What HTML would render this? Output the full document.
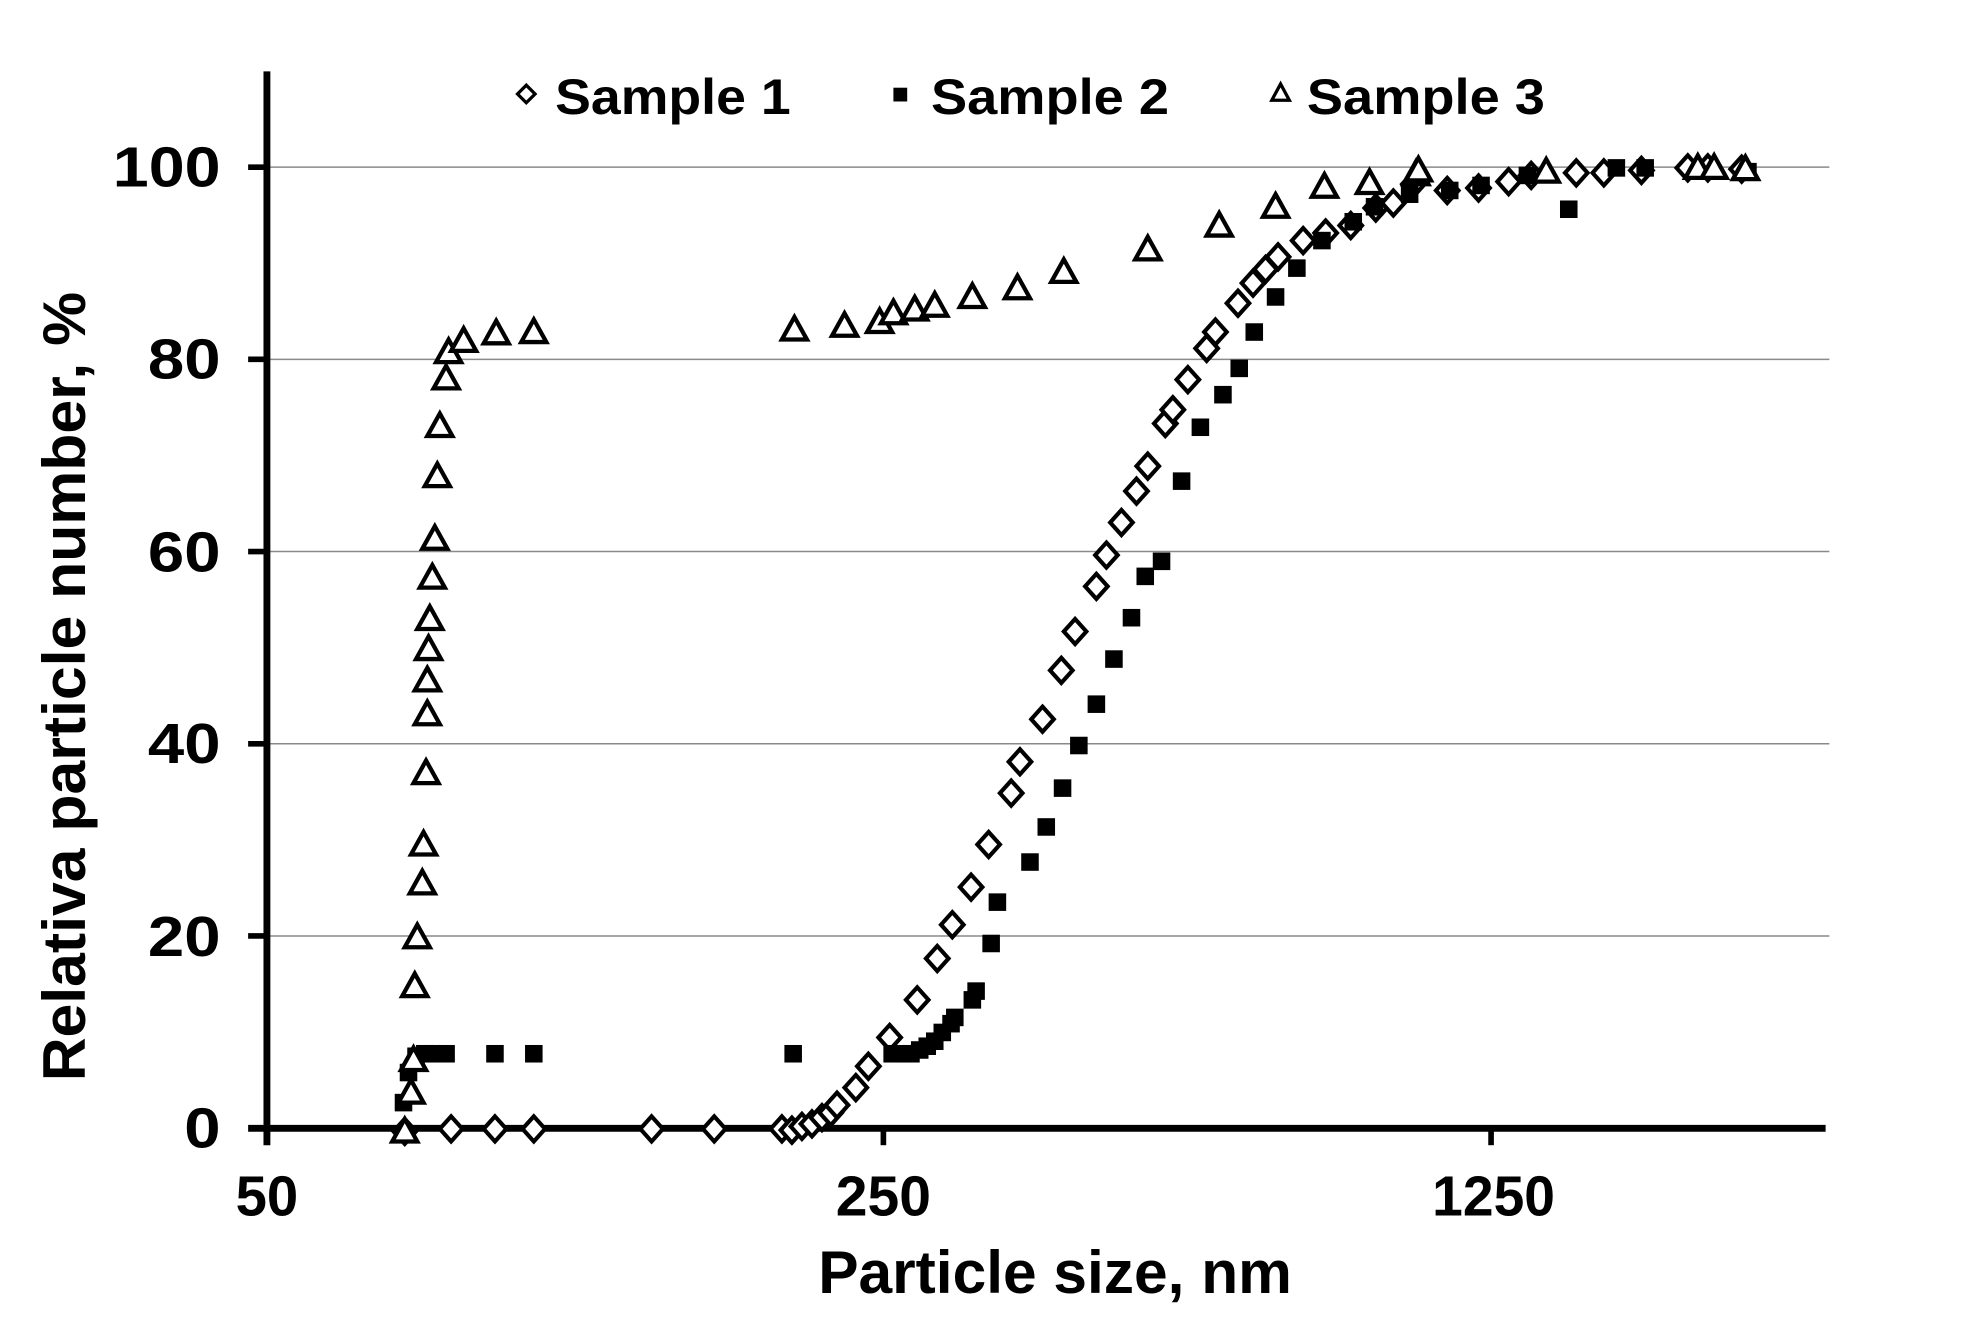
<!DOCTYPE html>
<html><head><meta charset="utf-8"><style>html,body{margin:0;padding:0;background:#fff}svg{display:block}</style></head>
<body>
<svg width="1968" height="1318" viewBox="0 0 1570.6 1051.9" xmlns="http://www.w3.org/2000/svg" font-family="Liberation Sans, Arial, sans-serif" font-weight="bold">
<defs>
<path id="d" d="M0,-10 L9,0 L0,10 L-9,0 Z" fill="#fff" stroke="#000" stroke-width="3.3"/>
<rect id="s" x="-7" y="-7" width="14" height="14" fill="#000"/>
<path id="t" d="M0,-10 L10,8 L-10,8 Z" fill="#fff" stroke="#000" stroke-width="3.4" stroke-linejoin="miter"/>
</defs>
<g stroke="#8a8a8a" stroke-width="1.2">
<line x1="213" y1="133.4" x2="1460" y2="133.4"/>
<line x1="213" y1="286.8" x2="1460" y2="286.8"/>
<line x1="213" y1="440.2" x2="1460" y2="440.2"/>
<line x1="213" y1="593.6" x2="1460" y2="593.6"/>
<line x1="213" y1="747" x2="1460" y2="747"/>
</g>
<g stroke="#000">
<line x1="213" y1="57" x2="213" y2="914" stroke-width="5.5"/>
<line x1="198" y1="900.5" x2="1457" y2="900.5" stroke-width="5.5"/>
<g stroke-width="4.5">
<line x1="198" y1="133.4" x2="213" y2="133.4"/>
<line x1="198" y1="286.8" x2="213" y2="286.8"/>
<line x1="198" y1="440.2" x2="213" y2="440.2"/>
<line x1="198" y1="593.6" x2="213" y2="593.6"/>
<line x1="198" y1="747" x2="213" y2="747"/>
<line x1="705" y1="900" x2="705" y2="914"/>
<line x1="1190" y1="900" x2="1190" y2="914"/>
</g>
</g>
<g font-size="45" text-anchor="end">
<text x="176" y="149" textLength="86" lengthAdjust="spacingAndGlyphs">100</text>
<text x="176" y="302" textLength="58" lengthAdjust="spacingAndGlyphs">80</text>
<text x="176" y="456" textLength="58" lengthAdjust="spacingAndGlyphs">60</text>
<text x="176" y="609" textLength="58" lengthAdjust="spacingAndGlyphs">40</text>
<text x="176" y="763" textLength="58" lengthAdjust="spacingAndGlyphs">20</text>
<text x="176" y="916" textLength="29" lengthAdjust="spacingAndGlyphs">0</text>
</g>
<g font-size="45" text-anchor="middle">
<text x="213" y="970" textLength="50" lengthAdjust="spacingAndGlyphs">50</text>
<text x="705" y="970" textLength="76" lengthAdjust="spacingAndGlyphs">250</text>
<text x="1192" y="970" textLength="98" lengthAdjust="spacingAndGlyphs">1250</text>
<text x="842" y="1032" font-size="48" textLength="378" lengthAdjust="spacingAndGlyphs">Particle size, nm</text>
<text transform="translate(68,548) rotate(-90)" font-size="48" textLength="630" lengthAdjust="spacingAndGlyphs">Relativa particle number,  %</text>
</g>
<g font-size="40">
<path d="M420,68 L427,75 L420,82 L413,75 Z" fill="#fff" stroke="#000" stroke-width="2.6"/>
<text x="443" y="91" textLength="188" lengthAdjust="spacingAndGlyphs">Sample 1</text>
<rect x="713" y="70" width="11" height="11" fill="#000"/>
<text x="743" y="91" textLength="190" lengthAdjust="spacingAndGlyphs">Sample 2</text>
<path d="M1022,67 L1029,80 L1015,80 Z" fill="#fff" stroke="#000" stroke-width="2.6"/>
<text x="1043" y="91" textLength="190" lengthAdjust="spacingAndGlyphs">Sample 3</text>
</g>
<script>
const NS="http://www.w3.org/2000/svg";
const svg=document.querySelector('svg');
function add(id,pts){pts.forEach(p=>{const u=document.createElementNS(NS,'use');u.setAttribute('href','#'+id);u.setAttribute('x',p[0]);u.setAttribute('y',p[1]);svg.appendChild(u);});}
add('d',[[323,903],[360,901],[395,901],[426,901],[520,901],[570,901],[624,901],[632,902],[640,899],[648,897],[656,892],[663,888],[668,882],[683,868],[693,851],[710,828],[732,798],[748,765],[760,738],[775,708],[789,674],[807,633],[814,608],[832,574],[847,535],[858,504],[875,468],[883,443],[895,417],[907,392],[916,372],[930,338],[936,327],[948,303],[963,278],[970,265],[988,242],[1000,226],[1010,215],[1020,205],[1040,192],[1058,186],[1078,180],[1098,166],[1112,162],[1128,147],[1155,152],[1180,150],[1204,145],[1222,140],[1258,138],[1280,138],[1310,136],[1347,134],[1363,134],[1390,135]]);
add('s',[[322,880],[326,856],[332,843],[339,841],[345,841],[356,841],[395,841],[426,841],[633,841],[712,841],[720,841],[727,841],[734,838],[740,835],[746,831],[752,824],[759,817],[762,812],[776,798],[779,791],[791,753],[796,720],[822,688],[835,660],[848,629],[861,595],[875,562],[889,526],[903,493],[914,460],[927,448],[943,384],[958,341],[976,315],[989,294],[1001,265],[1018,237],[1035,214],[1055,192],[1080,177],[1097,165],[1125,155],[1157,152],[1182,148],[1219,140],[1252,167],[1290,134],[1313,134],[1395,137]]);
add('t',[[323,903],[328,872],[330,846],[331,787],[333,748],[337,705],[338,674],[340,617],[341,570],[341,543],[342,518],[343,494],[345,461],[347,430],[349,380],[351,340],[356,302],[358,281],[370,272],[396,266],[426,265],[634,263],[674,260],[702,257],[713,250],[730,247],[746,244],[776,237],[812,230],[849,217],[916,199],[973,180],[1018,165],[1057,149],[1093,146],[1130,139],[1132,136],[1234,137],[1355,134],[1368,134],[1393,135]]);
</script>
</svg>
</body></html>
